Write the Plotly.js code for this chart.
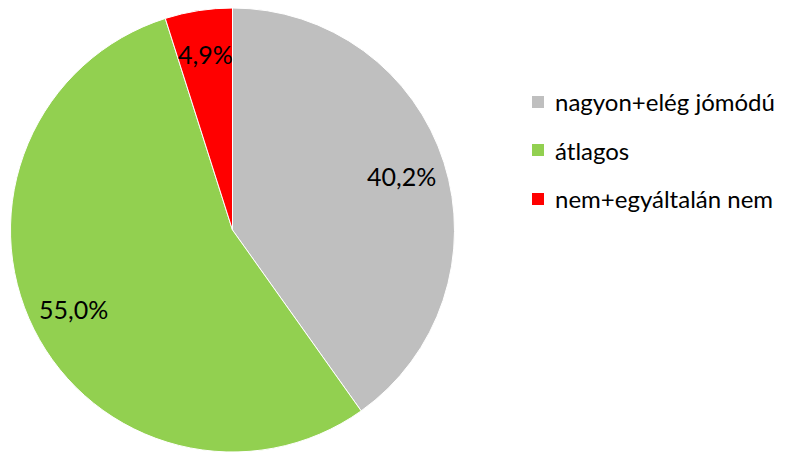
<!DOCTYPE html>
<html><head><meta charset="utf-8">
<script src="https://cdn.plot.ly/plotly-3.0.1.min.js"></script>
<style>html,body{margin:0;padding:0;background:#fff}#c{width:785px;height:454px}</style>
</head><body><div id="c"></div>
<script>
const categories = ["nagyon+elég jómódú", "átlagos", "nem+egyáltalán nem"];
const values = [40.2, 55.0, 4.9];
const labelsText = ["40,2%", "55,0%", "4,9%"];
const colors = ["#BFBFBF", "#92D050", "#FF0000"];

const W = 785, H = 454;
const font = "Lato, 'Liberation Sans', Arial, sans-serif";

const domX = [10 / W, 455 / W], domY = [1 - 452 / H, 1 - 8 / H];

// custom legend built from categories
const legX = 532, legTextX = 553, legY = [102, 150, 199], sq = 12;
const shapes = categories.map((c, i) => ({
  type: "rect", xref: "paper", yref: "paper",
  x0: legX / W, x1: (legX + sq) / W,
  y0: 1 - (legY[i] + sq / 2) / H, y1: 1 - (legY[i] - sq / 2) / H,
  fillcolor: colors[i], line: {width: 0}
}));
const annotations = categories.map((c, i) => ({
  text: c, xref: "paper", yref: "paper", x: legTextX / W, y: 1 - legY[i] / H,
  xanchor: "left", yanchor: "middle", showarrow: false,
  font: {family: font, size: 24, color: "#000"}
}));

// data labels placed along each slice's bisector (derived from values)
const total = values.reduce((a, b) => a + b, 0);
const cxp = (domX[0] + domX[1]) / 2 * W, cyp = (1 - (domY[0] + domY[1]) / 2) * H;
const R = Math.min((domX[1] - domX[0]) * W, (domY[1] - domY[0]) * H) / 2;
let cum = 0;
values.forEach((v, i) => {
  const th = (cum + v / 2) / total * 2 * Math.PI; cum += v;
  const k = 0.8;
  const px = cxp + R * k * Math.sin(th), py = cyp - R * k * Math.cos(th);
  annotations.push({
    text: labelsText[i], xref: "paper", yref: "paper", x: px / W, y: 1 - py / H,
    xanchor: "center", yanchor: "middle", showarrow: false,
    font: {family: font, size: 25, color: "#000"}
  });
});

Plotly.newPlot("c", [{
  type: "pie", labels: categories, values: values, text: labelsText,
  textinfo: "none", sort: false, direction: "clockwise", rotation: 0,
  marker: {colors: colors, line: {color: "#fff", width: 1}},
  domain: {x: domX, y: domY},
  showlegend: false, hoverinfo: "label+text"
}], {
  width: W, height: H, margin: {l: 0, r: 0, t: 0, b: 0},
  paper_bgcolor: "#fff", showlegend: false,
  shapes: shapes, annotations: annotations
}, {displayModeBar: false, staticPlot: true});
</script></body></html>
